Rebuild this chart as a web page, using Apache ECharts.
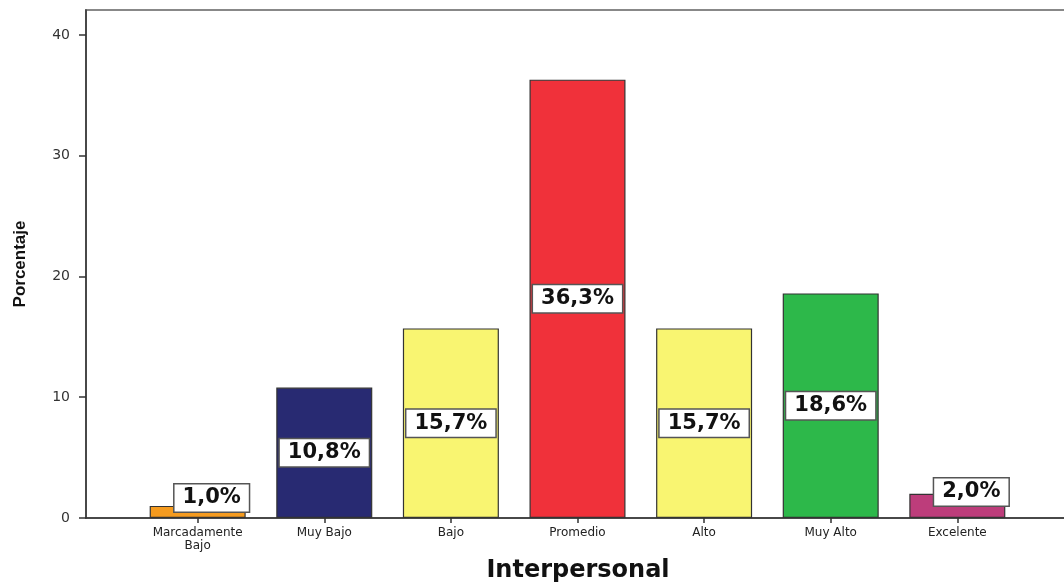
<!DOCTYPE html>
<html>
<head>
<meta charset="utf-8">
<script src="https://cdn.jsdelivr.net/npm/echarts@6/dist/echarts.min.js"></script>
<style>html,body{margin:0;padding:0;background:#fff;}#c{width:1064px;height:588px;}</style>
</head>
<body>
<div id="c"></div>
<script>
const categories = ['Marcadamente\nBajo', 'Muy Bajo', 'Bajo', 'Promedio', 'Alto', 'Muy Alto', 'Excelente'];
const values = [1.0, 10.8, 15.7, 36.3, 15.7, 18.6, 2.0];
const barColors = ['#f59b1f', '#282a72', '#f9f571', '#f0313a', '#f9f571', '#2db84a', '#bd3d7b'];
const yTicks = [0, 10, 20, 30, 40];
const xTicks = categories.map((c, i) => i);

const chart = echarts.init(document.getElementById('c'));
const data = values.map((v, i) => {
  const item = { value: [i, v], itemStyle: { color: barColors[i] } };
  if (v < 5) {
    item.label = { position: 'inside', offset: [14, -14] };
  }
  return item;
});
chart.setOption({
  animation: false,
  grid: { left: 86, right: -6, top: 10, bottom: 70, outerBoundsMode: 'none', containLabel: false, show: true, borderColor: '#888', borderWidth: 2, backgroundColor: 'transparent' },
  xAxis: {
    type: 'value',
    min: -0.882,
    max: 6.89,
    name: 'Interpersonal',
    nameLocation: 'middle',
    nameGap: 41,
    nameTextStyle: { fontFamily: 'DejaVu Sans', fontWeight: 'bold', fontSize: 24, color: '#111' },
    splitLine: { show: false },
    axisLine: { show: true, onZero: false, lineStyle: { color: '#333', width: 1.5 } },
    axisTick: { show: true, length: 5, customValues: xTicks, lineStyle: { color: '#333', width: 1.5 } },
    axisLabel: {
      customValues: xTicks,
      formatter: v => categories[Math.round(v)] || '',
      fontFamily: 'DejaVu Sans', fontSize: 12, color: '#222', lineHeight: 13, margin: 8
    }
  },
  yAxis: {
    type: 'value',
    min: 0,
    max: 42.07,
    name: 'Porcentaje',
    nameLocation: 'middle',
    nameGap: 57,
    nameTextStyle: { fontFamily: 'Liberation Sans', fontWeight: 'bold', fontSize: 17, color: '#111' },
    splitLine: { show: false },
    axisLine: { show: true, onZero: false, lineStyle: { color: '#333', width: 1.5 } },
    axisTick: { show: true, length: 7, customValues: yTicks, lineStyle: { color: '#333', width: 1.5 } },
    axisLabel: { customValues: yTicks, fontFamily: 'DejaVu Sans', fontSize: 14, color: '#333', margin: 16 }
  },
  series: [{
    type: 'bar',
    barWidth: 96,
    data: data,
    itemStyle: { borderColor: '#333', borderWidth: 1.2 },
    label: {
      show: true,
      position: 'inside',
      formatter: p => p.value[1].toFixed(1).replace('.', ',') + '%',
      fontFamily: 'DejaVu Sans', fontWeight: 'bold', fontSize: 21, color: '#111',
      lineHeight: 22,
      backgroundColor: '#fff', borderColor: '#555', borderWidth: 1.5,
      padding: [3, 8, 2, 8]
    }
  }]
});
</script>
</body>
</html>
